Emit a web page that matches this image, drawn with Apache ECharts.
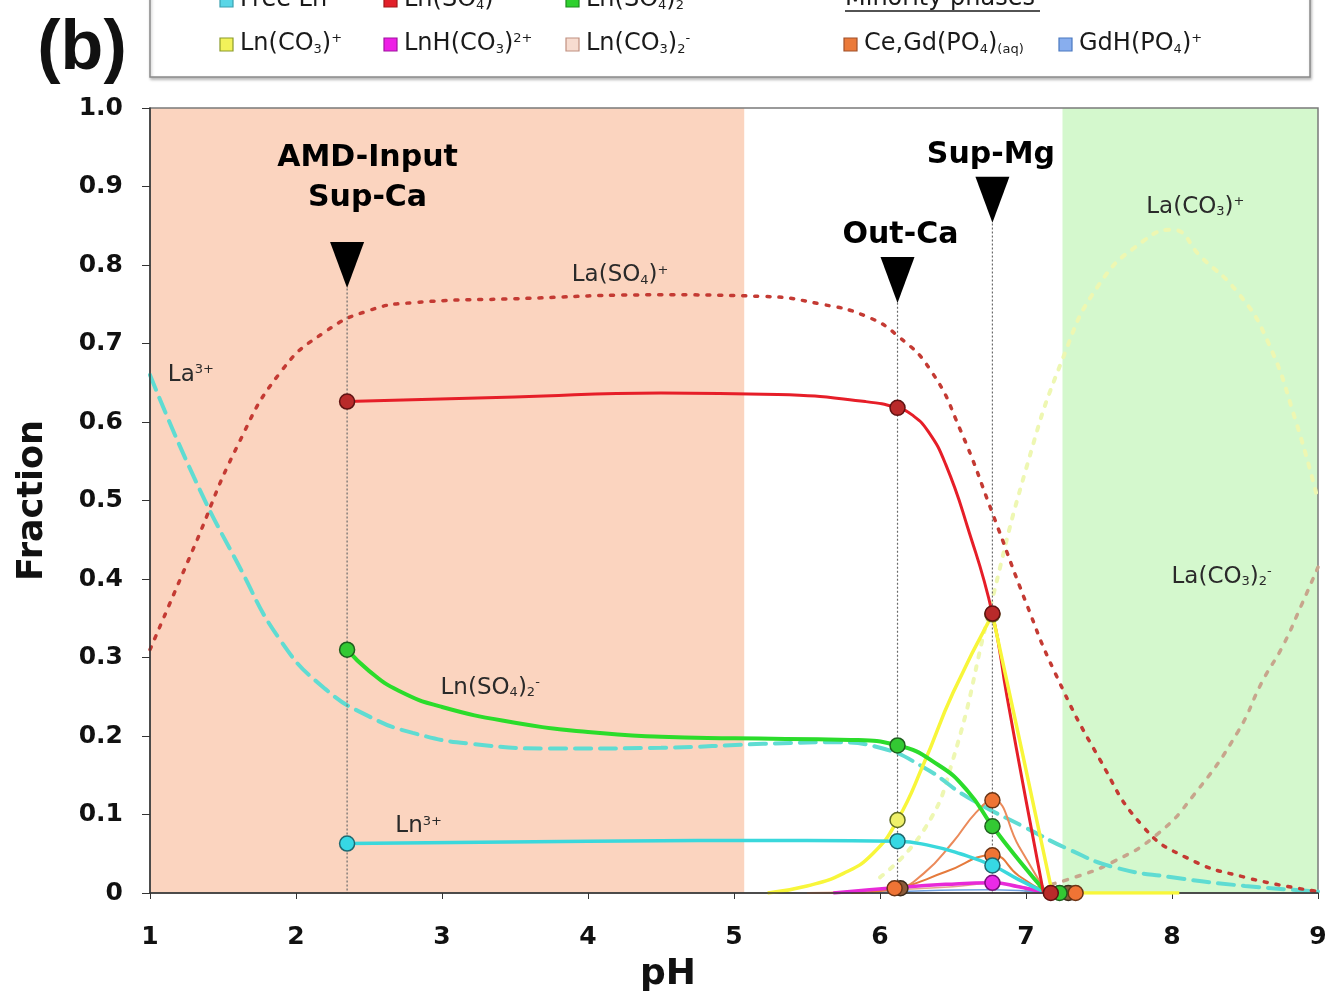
<!DOCTYPE html>
<html>
<head>
<meta charset="utf-8">
<script src="https://cdn.jsdelivr.net/npm/echarts@6.0.0/dist/echarts.min.js"></script>
<style>
  html, body { margin: 0; padding: 0; background: #fff; }
  #chart { width: 1325px; height: 1000px; }
</style>
</head>
<body>
<div id="chart"></div>
<script>
// ---- axis ranges ----
const phRange = [1, 9];
const fractionRange = [0, 1];

// ---- sampling stations (pH) ----
const samplePH = [2.35, 6.12, 6.77];
const sampleLabels = ['AMD-Input\nSup-Ca', 'Out-Ca', 'Sup-Mg'];
const markerTop = [0.80, 0.781, 0.883];   // fraction at the centre of each station arrow
const guideTop = [0.77, 0.752, 0.853];    // where each dotted guide starts

// ---- modelled La speciation (pH, fraction) ----
const laFree = [[1,0.66],[1.3,0.53],[1.6,0.42],[1.9,0.32],[2.2,0.26],[2.5,0.225],[2.8,0.204],[3.2,0.19],[3.8,0.184],[4.5,0.185],[5.2,0.19],[5.7,0.192],[6.0,0.185],[6.3,0.16],[6.6,0.122],[7.0,0.083],[7.3,0.055],[7.6,0.033],[8.0,0.02],[8.5,0.009],[9,0.002]];
const laSO4 = [[1,0.31],[1.3,0.44],[1.6,0.57],[1.9,0.665],[2.2,0.715],[2.5,0.742],[2.8,0.752],[3.5,0.757],[4.5,0.762],[5.2,0.76],[5.6,0.75],[5.9,0.735],[6.12,0.71],[6.35,0.665],[6.55,0.59],[6.77,0.484],[7.0,0.37],[7.2,0.28],[7.5,0.172],[7.8,0.085],[8.1,0.045],[8.5,0.02],[9,0.002]];
const laCO3 = [[6.0,0.02],[6.3,0.08],[6.5,0.17],[6.75,0.36],[7.0,0.54],[7.25,0.68],[7.5,0.775],[7.8,0.83],[8.0,0.845],[8.2,0.81],[8.45,0.765],[8.65,0.705],[8.85,0.6],[9,0.5]];
const laCO3_2 = [[7.0,0.003],[7.3,0.018],[7.6,0.04],[7.9,0.075],[8.15,0.125],[8.45,0.205],[8.62,0.27],[8.76,0.315],[8.88,0.364],[9,0.415]];

// ---- Ln speciation along the treatment line (pH, fraction) ----
const lnFree = [[2.35,0.063],[4,0.066],[5.5,0.067],[6.12,0.066],[6.35,0.06],[6.55,0.05],[6.77,0.035],[6.95,0.017],[7.14,0]];
const lnSO4 = [[2.35,0.626],[3.5,0.632],[4.5,0.637],[5.3,0.635],[5.9,0.626],[6.12,0.618],[6.22,0.609],[6.33,0.588],[6.45,0.546],[6.6,0.466],[6.77,0.356],[6.87,0.25],[7.0,0.118],[7.12,0]];
const lnSO4_2 = [[2.35,0.31],[2.5,0.283],[2.7,0.258],[3.0,0.237],[3.5,0.217],[4.0,0.205],[4.5,0.199],[5.0,0.197],[5.8,0.195],[6.12,0.188],[6.4,0.163],[6.6,0.13],[6.77,0.085],[6.95,0.042],[7.14,0]];
const lnCO3 = [[5.23,0],[5.5,0.009],[5.75,0.025],[5.95,0.05],[6.12,0.093],[6.3,0.165],[6.5,0.255],[6.77,0.355],[6.97,0.183],[7.18,0],[8.05,0]];
const lnHCO3 = [[5.68,0],[6.12,0.007],[6.45,0.011],[6.77,0.013],[6.95,0.008],[7.14,0]];
const lnCO3_2 = [[5.9,0],[6.12,0.004],[6.5,0.008],[6.77,0.012],[7.14,0]];
const cePO4 = [[5.5,0],[6.12,0.007],[6.3,0.025],[6.5,0.065],[6.66,0.103],[6.77,0.118],[6.95,0.06],[7.14,0]];
const gdPO4 = [[5.8,0],[6.12,0.006],[6.45,0.027],[6.77,0.048],[6.95,0.022],[7.14,0]];
const gdHPO4 = [[5.9,0],[6.12,0.002],[6.77,0.004],[7.14,0]];

// ---- values at the sampling stations (drawn as circles) ----
const ptFree = [[2.35,0.063],[6.12,0.066],[6.77,0.035]];
const ptSO4 = [[2.35,0.626],[6.12,0.618],[6.77,0.356],[7.17,0]];
const ptSO4_2 = [[2.35,0.31],[6.12,0.188],[6.77,0.085],[7.23,0]];
const ptCO3 = [[6.12,0.093],[6.77,0.355]];
const ptHCO3 = [[6.77,0.013]];
const ptCO3_2 = [[6.14,0.006],[7.29,0]];
const ptPO4 = [[6.1,0.006],[6.77,0.118],[6.77,0.048],[7.34,0]];

// ---- shaded pH windows ----
const acidWindow = [1, 5.07];
const alkalineWindow = [7.25, 9];

const FONT = '"DejaVu Sans", Verdana, sans-serif';

function richSet(size, color, weight) {
  return {
    sb: { fontSize: Math.round(size * 0.55), fontFamily: FONT, fontWeight: weight, color: color, verticalAlign: 'bottom' },
    sp: { fontSize: Math.round(size * 0.55), fontFamily: FONT, fontWeight: weight, color: color, verticalAlign: 'top' }
  };
}

// in-plot species names
const speciesNotes = [
  { name: 'La(SO{sb|4}){sp|+}', value: [4.22, 0.787] },
  { name: 'La{sp|3+}', value: [1.28, 0.66] },
  { name: 'La(CO{sb|3}){sp|+}', value: [8.16, 0.874] },
  { name: 'La(CO{sb|3}){sb|2}{sp|-}', value: [8.34, 0.403] },
  { name: 'Ln(SO{sb|4}){sb|2}{sp|-}', value: [3.33, 0.261] },
  { name: 'Ln{sp|3+}', value: [2.84, 0.085] }
];
const stationNotes = [
  { name: sampleLabels[0], value: [2.49, 0.91] },
  { name: sampleLabels[1], value: [6.14, 0.838] },
  { name: sampleLabels[2], value: [6.76, 0.94] }
];

const chart = echarts.init(document.getElementById('chart'));

function modelLine(name, data, color, width, dash) {
  return {
    name, type: 'line', data, z: 3, smooth: 0.5,
    showSymbol: false, silent: true,
    lineStyle: { color, width, type: dash, cap: 'round' }
  };
}
function speciesLine(name, data, color, width, smooth) {
  return {
    name, type: 'line', data, z: 5, smooth: smooth === undefined ? 0.5 : smooth,
    showSymbol: false, silent: true,
    lineStyle: { color, width }
  };
}
// a curve that climbs smoothly to its maximum and then falls straight back to zero
function peakedLine(name, data, color, width) {
  let k = 0;
  data.forEach((d, i) => { if (d[1] > data[k][1]) k = i; });
  return [
    speciesLine(name, data.slice(0, k + 1), color, width, 0.5),
    Object.assign(speciesLine(name, data.slice(k), color, width, false), { z: 6 })
  ];
}
function points(name, data, fill, border) {
  return {
    name, type: 'scatter', data, z: 7, symbol: 'circle', symbolSize: 15, silent: true,
    itemStyle: { color: fill, borderColor: border, borderWidth: 1.5, opacity: 1 }
  };
}

const guides = samplePH.map((p, i) => ({
  type: 'line', z: 4, silent: true, showSymbol: false,
  data: [[p, guideTop[i]], [p, 0]],
  lineStyle: { color: '#6a6a6a', width: 1.2, type: [2, 2] }
}));

const option = {
  animation: false,
  backgroundColor: '#ffffff',
  grid: {
    left: 150, right: 7, top: 108, bottom: 107,
    show: true, z: 3, backgroundColor: 'transparent',
    borderColor: '#7a7a7a', borderWidth: 1.5,
    outerBoundsMode: 'none'
  },
  xAxis: {
    type: 'value', min: phRange[0], max: phRange[1], interval: 1, z: 6,
    name: 'pH', nameLocation: 'middle', nameGap: 64,
    nameTextStyle: { fontFamily: FONT, fontWeight: 'bold', fontSize: 36, color: '#111', padding: [0, 132, 0, 0] },
    axisLine: { show: true, lineStyle: { color: '#333', width: 1.5 } },
    axisTick: { show: true, length: 6, lineStyle: { color: '#333' } },
    axisLabel: { margin: 32, fontFamily: FONT, fontWeight: 'bold', fontSize: 25, color: '#111' },
    splitLine: { show: false }
  },
  yAxis: {
    type: 'value', min: fractionRange[0], max: fractionRange[1], interval: 0.1, z: 6,
    name: 'Fraction', nameLocation: 'middle', nameGap: 100,
    nameTextStyle: { fontFamily: FONT, fontWeight: 'bold', fontSize: 35, color: '#111' },
    axisLine: { show: true, lineStyle: { color: '#333', width: 1.5 } },
    axisTick: { show: true, length: 8, lineStyle: { color: '#333' } },
    axisLabel: {
      margin: 27, fontFamily: FONT, fontWeight: 'bold', fontSize: 25, color: '#111',
      formatter: v => (v === 0 ? '0' : v.toFixed(1))
    },
    splitLine: { show: false }
  },
  graphic: [],
  series: [
    {
      type: 'line', data: [[1, 0]], z: 1, silent: true, showSymbol: false,
      lineStyle: { opacity: 0 },
      markArea: {
        silent: true,
        data: [
          [{ xAxis: acidWindow[0], itemStyle: { color: '#fbd4bf' } }, { xAxis: acidWindow[1] }],
          [{ xAxis: alkalineWindow[0], itemStyle: { color: '#d4f8cd' } }, { xAxis: alkalineWindow[1] }]
        ]
      }
    },
    modelLine('La(CO3)+', laCO3, '#eef7b2', 4, [4, 9]),
    modelLine('La(CO3)2-', laCO3_2, '#c7a58c', 3.5, [4, 9]),
    modelLine('La3+', laFree, '#5fdcd2', 4, [16, 9]),
    modelLine('La(SO4)+', laSO4, '#c43a33', 3.5, [3, 9]),
    ...guides,
    speciesLine('GdH(PO4)+', gdHPO4, '#6fa0e0', 1.5),
    speciesLine('Ln(CO3)2-', lnCO3_2, '#e3a792', 1.5),
    speciesLine('Ce(PO4)', cePO4, '#eb8a5a', 2),
    speciesLine('Gd(PO4)', gdPO4, '#e57a3c', 2),
    speciesLine('LnH(CO3)2+', lnHCO3, '#e82ad8', 3.5),
    ...peakedLine('Ln(CO3)+', lnCO3, '#f8f63a', 3.5),
    speciesLine('Free Ln', lnFree, '#3ad8dc', 3.5),
    speciesLine('Ln(SO4)2-', lnSO4_2, '#2bdc2b', 4),
    speciesLine('Ln(SO4)+', lnSO4, '#e61e28', 3),
    points('pts Ln(CO3)2-', ptCO3_2, '#8a5a3a', '#3a2a1a'),
    points('pts PO4', ptPO4, '#ef7435', '#6a3415'),
    points('pts LnH(CO3)2+', ptHCO3, '#ea2ae8', '#7a107a'),
    points('pts Free Ln', ptFree, '#36d8e4', '#1e6870'),
    points('pts Ln(CO3)+', ptCO3, '#eff06a', '#5d6a22'),
    points('pts Ln(SO4)2-', ptSO4_2, '#33c933', '#1e5f1e'),
    points('pts Ln(SO4)+', ptSO4, '#b92a2a', '#5f1212'),
    {
      type: 'scatter', z: 8, silent: true,
      data: samplePH.map((p, i) => [p, markerTop[i]]),
      symbol: 'triangle', symbolRotate: 180, symbolSize: [34, 46],
      itemStyle: { color: '#000000', opacity: 1 }
    },
    {
      type: 'scatter', z: 9, silent: true, data: speciesNotes,
      symbolSize: 1, itemStyle: { color: 'transparent', opacity: 1 },
      label: {
        show: true, position: 'inside', formatter: p => p.name, opacity: 1,
        fontFamily: FONT, fontSize: 23, color: '#2a2a2a', rich: richSet(23, '#2a2a2a', 'normal')
      }
    },
    {
      type: 'scatter', z: 9, silent: true, data: stationNotes,
      symbolSize: 1, itemStyle: { color: 'transparent', opacity: 1 },
      label: {
        show: true, position: 'inside', formatter: p => p.name, opacity: 1,
        fontFamily: FONT, fontSize: 30, fontWeight: 'bold', lineHeight: 40, color: '#000000', align: 'center'
      }
    }
  ]
};

// ---- legend box ----
const legendItems = [
  { text: 'Free Ln', fill: '#5ad6e6', stroke: '#3aa0b0', x: 226, row: 0 },
  { text: 'Ln(SO{sb|4}){sp|+}', fill: '#e2202a', stroke: '#a01818', x: 390, row: 0 },
  { text: 'Ln(SO{sb|4}){sb|2}{sp|-}', fill: '#2ed02e', stroke: '#1e8a1e', x: 572, row: 0 },
  { text: 'Ln(CO{sb|3}){sp|+}', fill: '#f2f25a', stroke: '#8a9a2a', x: 226, row: 1 },
  { text: 'LnH(CO{sb|3}){sp|2+}', fill: '#ee1ee6', stroke: '#a015a0', x: 390, row: 1 },
  { text: 'Ln(CO{sb|3}){sb|2}{sp|-}', fill: '#f7dcd0', stroke: '#c09080', x: 572, row: 1 },
  { text: 'Ce,Gd(PO{sb|4}){sb|(aq)}', fill: '#eb7a3a', stroke: '#a0502a', x: 850, row: 1 },
  { text: 'GdH(PO{sb|4}){sp|+}', fill: '#88aeee', stroke: '#4a78c0', x: 1065, row: 1 }
];
const rowY = [0, 44];
const legendGraphics = [
  {
    type: 'rect', z: 10, silent: true,
    shape: { x: 150, y: -40, width: 1160, height: 117 },
    style: { fill: '#ffffff', stroke: '#8a8a8a', lineWidth: 1.5, shadowColor: 'rgba(0,0,0,0.25)', shadowBlur: 3, shadowOffsetX: 1, shadowOffsetY: 2 }
  }
];
legendItems.forEach(it => {
  legendGraphics.push({
    type: 'rect', z: 11, silent: true,
    shape: { x: it.x - 6, y: rowY[it.row] - 6, width: 13, height: 13 },
    style: { fill: it.fill, stroke: it.stroke, lineWidth: 1.2 }
  });
  legendGraphics.push({
    type: 'text', z: 11, silent: true, x: it.x + 14, y: rowY[it.row],
    style: {
      text: it.text, fontFamily: FONT, fontSize: 24, fill: '#1a1a1a',
      verticalAlign: 'middle', align: 'left', rich: richSet(24, '#1a1a1a', 'normal')
    }
  });
});
legendGraphics.push({
  type: 'text', z: 11, silent: true, x: 845, y: -1,
  style: { text: 'Minority phases', fontFamily: FONT, fontSize: 24, fill: '#1a1a1a', verticalAlign: 'middle', align: 'left' }
});
legendGraphics.push({
  type: 'line', z: 11, silent: true,
  shape: { x1: 845, y1: 11, x2: 1040, y2: 11 },
  style: { stroke: '#1a1a1a', lineWidth: 1.5 }
});
legendGraphics.push({
  type: 'text', z: 11, silent: true, x: 82, y: 50,
  style: { text: '(b)', fontFamily: '"Liberation Sans", Arial, sans-serif', fontSize: 70, fontWeight: 'bold', fill: '#111', align: 'center', verticalAlign: 'middle' }
});
option.graphic = legendGraphics;

chart.setOption(option);
</script>
</body>
</html>
